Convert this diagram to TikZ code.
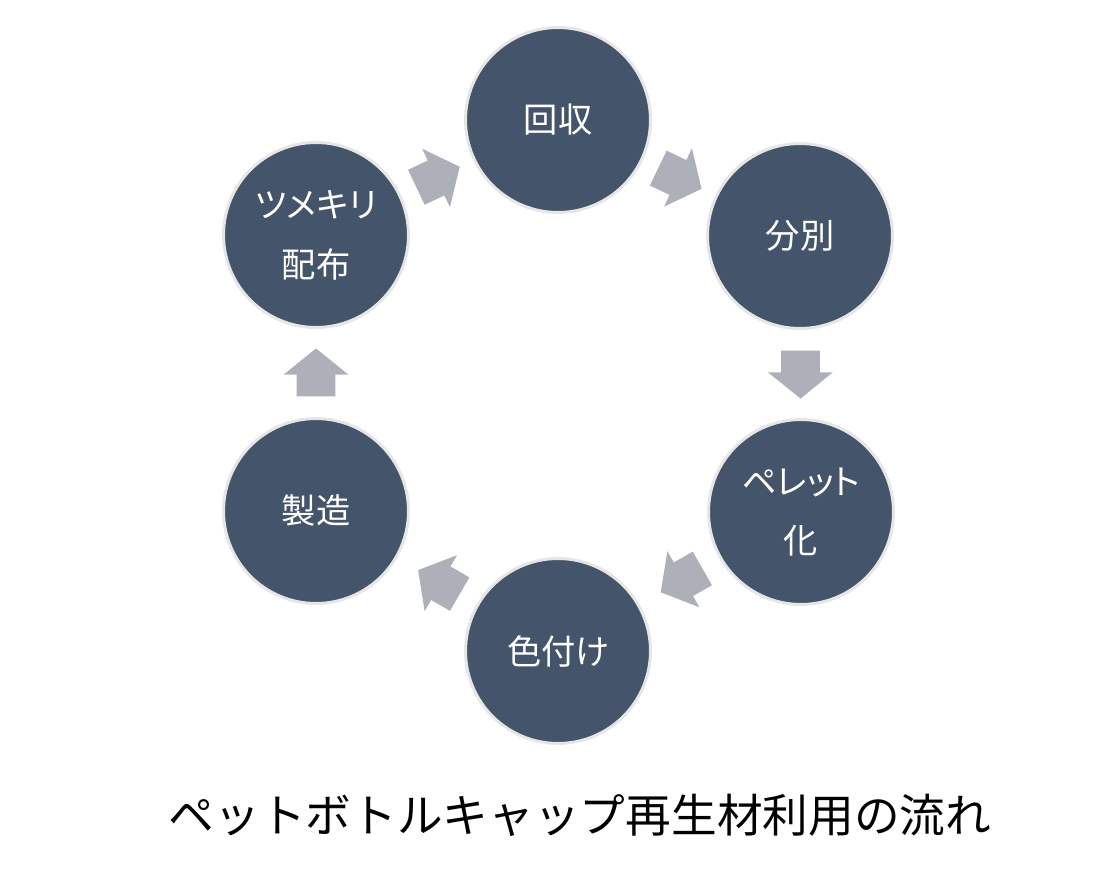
\documentclass[tikz,border=0pt]{standalone}
\usepackage{fontspec}
\setmainfont{Noto Sans CJK JP}
\newfontfamily\stepfont[RawFeature=+palt]{Noto Sans CJK JP}
\usetikzlibrary{shapes.arrows}

\definecolor{stepfill}{HTML}{44546A}
\definecolor{stepring}{HTML}{E6E6E6}
\definecolor{flowgray}{HTML}{ADB0B8}

\tikzset{
  stepnode/.style={shape=circle,fill=stepfill,draw=stepring,line width=1.7pt,
    minimum size=3.7cm,inner sep=0pt,text=white,align=center,
    font=\stepfont\fontsize{19.5}{34}\selectfont},
  flowarrow/.style={shape=single arrow,fill=flowgray,draw=none,inner xsep=0pt,
    inner ysep=0.38cm,minimum height=0.96cm,single arrow tip angle=102,
    single arrow head extend=0.26cm,sloped,allow upside down,anchor=tail},
}

\begin{document}
\begin{tikzpicture}[x=0.02cm,y=-0.02cm]
\useasboundingbox (0,0) rectangle (1117,869);

\node[stepnode] (kaishu) at (558,120) {回収};
\node[stepnode] (bunbetsu) at (800,236) {分別};
\node[stepnode] (pellet) at (801,512) {ペレット\\化};
\node[stepnode] (iro) at (558,651) {色付け};
\node[stepnode] (seizo) at (316,511) {製造};
\node[stepnode] (haifu) at (316,235) {ツメキリ\\配布};

\path (kaishu) -- (bunbetsu) node[pos=0.21,flowarrow] {};
\path (bunbetsu) -- (pellet) node[pos=0.23,flowarrow] {};
\path (pellet) -- (iro) node[pos=0.21,flowarrow] {};
\path (iro) -- (seizo) node[pos=0.21,flowarrow] {};
\path (seizo) -- (haifu) node[pos=0.23,flowarrow] {};
\path (haifu) -- (kaishu) node[pos=0.21,flowarrow] {};

\node[font=\fontsize{26}{30}\selectfont] (title) at (580,815) {ペットボトルキャップ再生材利用の流れ};
\end{tikzpicture}
\end{document}
